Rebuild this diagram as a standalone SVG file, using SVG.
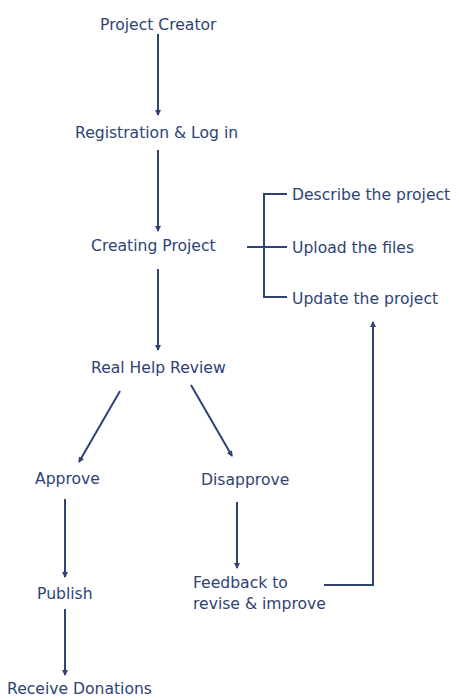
<svg xmlns="http://www.w3.org/2000/svg" width="459" height="700" viewBox="0 0 459 700">
<defs>
<style>
text{font-family:"DejaVu Sans","Verdana",sans-serif;font-size:15.6px;fill:#2E4374}
.c{fill:none;stroke:#2E4374;stroke-width:2}
</style>
<marker id="ah" viewBox="0 0 6 6" refX="5" refY="3" markerWidth="3" markerHeight="3" orient="auto" markerUnits="strokeWidth">
<path d="M0,0 L6,3 L0,6 z" fill="#2E4374"/>
</marker>
</defs>
<rect width="459" height="700" fill="#fff"/>
<g id="connectors">
<line class="c" x1="158" y1="34" x2="158" y2="115" marker-end="url(#ah)"/>
<line class="c" x1="158" y1="150" x2="158" y2="231" marker-end="url(#ah)"/>
<line class="c" x1="158" y1="269" x2="158" y2="350" marker-end="url(#ah)"/>
<path class="c" d="M247,247 H287 M287,194 H264 V297 H287"/>
<line class="c" x1="120" y1="391" x2="79" y2="462" marker-end="url(#ah)"/>
<line class="c" x1="191" y1="385" x2="232" y2="456" marker-end="url(#ah)"/>
<line class="c" x1="65" y1="499" x2="65" y2="577" marker-end="url(#ah)"/>
<line class="c" x1="237" y1="502" x2="237" y2="568" marker-end="url(#ah)"/>
<line class="c" x1="65" y1="609" x2="65" y2="675" marker-end="url(#ah)"/>
<path class="c" d="M324,585 H373 V322" marker-end="url(#ah)"/>
</g>
<g id="n-creator"><text x="100" y="30">Project Creator</text></g>
<g id="n-reg"><text x="75" y="138">Registration &amp; Log in</text></g>
<g id="n-create"><text x="91" y="251">Creating Project</text></g>
<g id="n-describe"><text x="292" y="200">Describe the project</text></g>
<g id="n-upload"><text x="292" y="253">Upload the files</text></g>
<g id="n-update"><text x="292" y="304">Update the project</text></g>
<g id="n-review"><text x="91" y="373">Real Help Review</text></g>
<g id="n-approve"><text x="35" y="484">Approve</text></g>
<g id="n-disapprove"><text x="201" y="485">Disapprove</text></g>
<g id="n-publish"><text x="37" y="599">Publish</text></g>
<g id="n-feedback"><text x="193" y="588">Feedback to</text><text x="193" y="609">revise &amp; improve</text></g>
<g id="n-receive"><text x="7" y="694">Receive Donations</text></g>
</svg>
